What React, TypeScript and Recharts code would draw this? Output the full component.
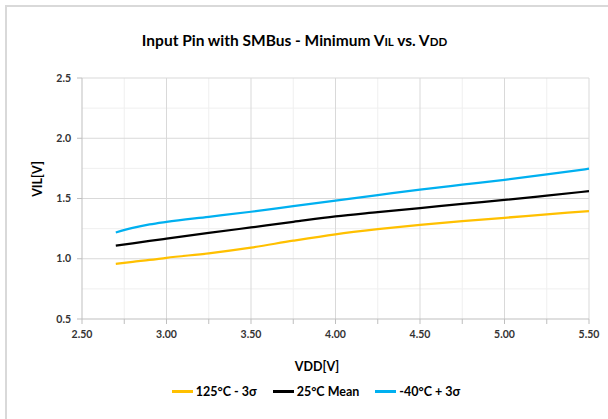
import React from 'react';
import { LineChart, Line, XAxis, YAxis, ReferenceLine, Legend } from 'recharts';

// VDD [V]
const vdd = [2.7, 2.8, 2.9, 3.0, 3.25, 3.5, 3.75, 4.0, 4.25, 4.5, 4.75, 5.0, 5.25, 5.5];
// 125°C - 3σ
const hot = [0.958, 0.975, 0.99, 1.008, 1.045, 1.092, 1.15, 1.203, 1.245, 1.281, 1.312, 1.34, 1.368, 1.396];
// 25°C Mean
const mean = [1.109, 1.128, 1.148, 1.167, 1.214, 1.26, 1.306, 1.351, 1.386, 1.42, 1.455, 1.488, 1.524, 1.561];
// -40°C + 3σ
const cold = [1.218, 1.256, 1.285, 1.306, 1.348, 1.39, 1.436, 1.482, 1.528, 1.574, 1.615, 1.655, 1.7, 1.747];

const xTicks = [2.5, 2.75, 3.0, 3.25, 3.5, 3.75, 4.0, 4.25, 4.5, 4.75, 5.0, 5.25, 5.5];
const xMajor = [3.0, 3.5, 4.0, 4.5, 5.0, 5.5];
const xMinor = [2.75, 3.25, 3.75, 4.25, 4.75, 5.25];
const yTicks = [0.5, 1.0, 1.5, 2.0, 2.5];
const yMajor = [1.0, 1.5, 2.0, 2.5];
const yMinor = [0.75, 1.25, 1.75, 2.25];

const seriesKeys = ['hot', 'mean', 'cold'];
const seriesNames = ['125°C - 3σ', '25°C Mean', '-40°C + 3σ'];
const seriesColors = ['#FFC000', '#000000', '#00B0F0'];

const data = vdd.map((x, i) => ({ x, hot: hot[i], mean: mean[i], cold: cold[i] }));

const FONT = 'Lato, "Open Sans", sans-serif';
const tickStyle = { fill: '#333333', fontSize: 10.5, fontWeight: 700, fontFamily: FONT };

const isMajorX = (v: number) => Math.abs(v * 2 - Math.round(v * 2)) < 1e-6;

const LegendContent = () => (
  <div style={{ display: 'flex', justifyContent: 'center', alignItems: 'center', paddingLeft: 24, fontFamily: FONT, fontWeight: 700, fontSize: 12.5, color: '#000' }}>
    {seriesNames.map((n, i) => (
      <div key={n} style={{ display: 'flex', alignItems: 'center', marginRight: i < seriesNames.length - 1 ? 16 : 0 }}>
        <div style={{ width: 21, height: 3, background: seriesColors[i], marginRight: 3 }} />
        <span>{n}</span>
      </div>
    ))}
  </div>
);

export default function App() {
  return (
    <div style={{ position: 'absolute', left: 0, top: 0, width: 608, height: 419, background: '#fff', overflow: 'hidden' }}>
      <div style={{ position: 'absolute', left: 5, top: 5, width: 620, height: 430, borderTop: '2px solid #d9d9d9', borderLeft: '2px solid #d9d9d9' }} />
      <div style={{ position: 'absolute', left: 0, top: 31, width: 589, textAlign: 'center', fontFamily: FONT, fontWeight: 700, fontSize: 15.5, color: '#000', lineHeight: '18px' }}>
        Input Pin with SMBus - Minimum V<span style={{ fontSize: 11.5 }}>IL</span> vs. V<span style={{ fontSize: 11.5 }}>DD</span>
      </div>
      <div style={{ position: 'absolute', left: 0, top: 0 }}>
        <LineChart width={608} height={419} data={data} margin={{ top: 78, right: 19, bottom: 50, left: 0 }}>
          {xMinor.map((v) => (
            <ReferenceLine key={'xm' + v} x={v} stroke="#efefef" strokeWidth={1} />
          ))}
          {yMinor.map((v) => (
            <ReferenceLine key={'ym' + v} y={v} stroke="#efefef" strokeWidth={1} />
          ))}
          {xMajor.map((v) => (
            <ReferenceLine key={'xM' + v} x={v} stroke="#d9d9d9" strokeWidth={1} />
          ))}
          {yMajor.map((v) => (
            <ReferenceLine key={'yM' + v} y={v} stroke="#d9d9d9" strokeWidth={1} />
          ))}
          <XAxis
            type="number"
            dataKey="x"
            domain={[2.5, 5.5]}
            ticks={xTicks}
            interval={0}
            tickFormatter={(v: number) => (isMajorX(v) ? v.toFixed(2) : '')}
            stroke="#bfbfbf"
            tickSize={5}
            tickMargin={7}
            tick={tickStyle}
            height={50}
            label={{
              content: () => (
                <text x={317} y={371} textAnchor="middle" fontFamily={FONT} fontWeight={700} fontSize={12.5} fill="#000">
                  VDD[V]
                </text>
              ),
            }}
          />
          <YAxis
            type="number"
            domain={[0.5, 2.5]}
            ticks={yTicks}
            interval={0}
            tickFormatter={(v: number) => v.toFixed(1)}
            stroke="#bfbfbf"
            tickSize={5}
            tickMargin={6}
            tick={tickStyle}
            width={82}
            label={{
              content: () => (
                <text x={42} y={179} textAnchor="middle" transform="rotate(-90 42 179)" fontFamily={FONT} fontWeight={700} fontSize={12.5} fill="#000">
                  VIL[V]
                </text>
              ),
            }}
          />
          <Legend
            layout="horizontal"
            verticalAlign="middle"
            align="center"
            content={<LegendContent />}
            wrapperStyle={{ top: 384, left: 0, width: 608 }}
          />
          {seriesKeys.map((k, i) => (
            <Line
              key={k}
              type="monotone"
              dataKey={k}
              name={seriesNames[i]}
              stroke={seriesColors[i]}
              strokeWidth={2.25}
              dot={false}
              activeDot={false}
              isAnimationActive={false}
            />
          ))}
        </LineChart>
      </div>
    </div>
  );
}
